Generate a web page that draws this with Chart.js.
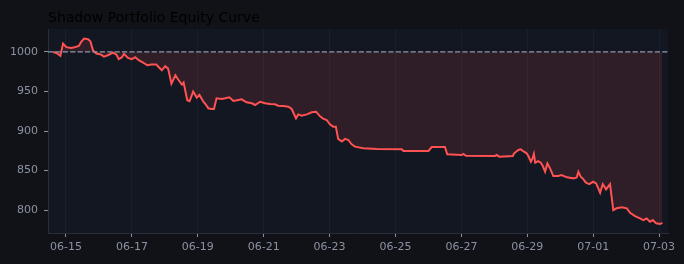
<!DOCTYPE html>
<html>
<head>
<meta charset="utf-8">
<script src="https://cdn.jsdelivr.net/npm/chart.js@4.4.1/dist/chart.umd.min.js"></script>
<style>
  html, body { margin: 0; padding: 0; background: #111217; }
  #wrap { width: 684px; height: 264px; }
</style>
</head>
<body>
<div id="wrap"><canvas id="myChart" width="684" height="264"></canvas></div>
<script>
  // day number counted from June (07-01 = 31)
  const days = [14.61, 14.71, 14.83, 14.91, 15.01, 15.16, 15.26, 15.39, 15.46, 15.55, 15.67, 15.74, 15.82, 15.92,
    16.07, 16.15, 16.27, 16.43, 16.53, 16.60, 16.70, 16.76, 16.88, 17.00, 17.10, 17.21, 17.34, 17.47, 17.59, 17.74,
    17.84, 17.91, 18.01, 18.10, 18.20, 18.32, 18.42, 18.52, 18.57, 18.68, 18.75, 18.86, 18.97, 19.05, 19.17, 19.25,
    19.32, 19.42, 19.49, 19.57, 19.73, 19.83, 19.96, 20.08, 20.23, 20.33, 20.48, 20.64, 20.74, 20.89, 21.04, 21.19,
    21.34, 21.44, 21.59, 21.75, 21.85, 21.98, 22.05, 22.15, 22.31, 22.46, 22.59, 22.69, 22.79, 22.91, 23.01, 23.11,
    23.19, 23.26, 23.37, 23.47, 23.57, 23.67, 23.77, 24.02, 24.43, 25.19, 25.24, 26.00, 26.10, 26.50, 26.57, 27.01,
    27.06, 27.14, 28.02, 28.07, 28.15, 28.56, 28.60, 28.73, 28.80, 28.90, 28.98, 29.03, 29.11, 29.16, 29.20, 29.24,
    29.33, 29.41, 29.47, 29.54, 29.61, 29.69, 29.79, 29.94, 30.04, 30.20, 30.40, 30.50, 30.55, 30.62, 30.68, 30.78,
    30.88, 31.00, 31.09, 31.21, 31.29, 31.39, 31.51, 31.61, 31.71, 31.87, 32.02, 32.12, 32.27, 32.42, 32.52, 32.62,
    32.72, 32.81, 32.91, 33.03, 33.10];
  const equity = [1000, 998.7, 995, 1010.5, 1006, 1005, 1006, 1007.6, 1012.7, 1016.9, 1016, 1013.5, 1002, 998,
    996.6, 994, 995.8, 999, 996.6, 990.8, 993.3, 997.5, 992.4, 990.8, 993.3, 989.5, 986.5, 983.1, 984, 984,
    979.7, 976.8, 981.9, 978.9, 959.9, 970.5, 964.2, 958.6, 961.2, 938.9, 937.6, 949.8, 942.2, 945.6, 937, 933,
    928.7, 927.8, 927.8, 941.4, 940.5, 941.4, 942.7, 938, 939.2, 940, 936.3, 935, 932.9, 937, 935, 934.2,
    933.8, 932, 931.6, 930.8, 927.8, 916, 921, 919.4, 921, 923.6, 924.4, 919.4, 916, 913.9, 908.5, 905.5,
    905.5, 890, 886.6, 890, 888.6, 883.2, 880.2, 878.1, 877.2, 876.8, 874.7, 874.7, 879.7, 879.7, 870.5, 869.6,
    870.9, 868.7, 868.4, 869.6, 867.5, 868.4, 871.8, 876, 876.8, 873.8, 871.8, 868.4, 861.1, 865.4, 870.9, 859.9,
    862, 859.9, 855.7, 848.5, 859, 852.8, 843, 843, 844.3, 841.4, 840.1, 841.4, 848.5, 842.2, 840.1, 834.6,
    832.9, 835.8, 833.8, 821.9, 832.9, 826.2, 832.9, 800, 802.2, 803.4, 802.2, 796.6, 792.4, 789.5, 787.3, 789.5,
    785.2, 787.3, 783.2, 782.3, 783.9];
  const baseline = 1000;
  const xTicks = [15, 17, 19, 21, 23, 25, 27, 29, 31, 33];
  const yTicks = [800, 850, 900, 950, 1000];
  const titleText = "Shadow Portfolio Equity Curve";

  const xMin = 14.454, xMax = 33.27;

  function dayLabel(d) {
    let m = "06", n = d;
    if (d > 30) { m = "07"; n = d - 30; }
    return m + "-" + String(n).padStart(2, "0");
  }

  // page + plot background and title
  const bgPlugin = {
    id: "bg",
    beforeDraw(chart) {
      const ctx = chart.ctx, a = chart.chartArea;
      ctx.save();
      ctx.fillStyle = "#111217";
      ctx.fillRect(0, 0, chart.width, chart.height);
      ctx.fillStyle = "#131722";
      ctx.fillRect(a.left, a.top, a.right - a.left, a.bottom - a.top);
      ctx.fillStyle = "#000000";
      ctx.font = "14px 'DejaVu Sans'";
      ctx.textBaseline = "alphabetic";
      ctx.fillText(titleText, a.left, 22);
      ctx.restore();
    }
  };

  const config = {
    type: "line",
    data: {
      datasets: [
        {
          label: "Baseline",
          data: [{ x: xMin, y: baseline }, { x: xMax, y: baseline }],
          borderColor: "#8f98ab",
          borderWidth: 1.3,
          borderDash: [5.2, 2.2],
          pointRadius: 0,
          fill: false,
          order: 1
        },
        {
          label: "Equity",
          data: days.map((d, i) => ({ x: d, y: equity[i] })),
          borderColor: "#ff5252",
          backgroundColor: "rgba(255, 82, 82, 0.12)",
          borderWidth: 2,
          pointRadius: 0,
          tension: 0,
          fill: { value: baseline },
          order: 2
        }
      ]
    },
    options: {
      responsive: false,
      animation: false,
      layout: { padding: { top: 29, right: 16, left: 0, bottom: 0 } },
      plugins: { legend: { display: false }, tooltip: { enabled: false } },
      scales: {
        x: {
          type: "linear",
          min: xMin,
          max: xMax,
          afterBuildTicks: (s) => { s.ticks = xTicks.map(v => ({ value: v })); },
          afterFit: (s) => { s.height = 31; },
          grid: { color: "#1b1f2c", tickColor: "#8b92a3", tickLength: 4, drawOnChartArea: true },
          border: { color: "#2a2e39" },
          ticks: {
            color: "#8b92a3",
            font: { family: "DejaVu Sans", size: 11 },
            padding: 4,
            maxRotation: 0,
            autoSkip: false,
            callback: (v) => dayLabel(v)
          }
        },
        y: {
          min: 771,
          max: 1029,
          afterBuildTicks: (s) => { s.ticks = yTicks.map(v => ({ value: v })); },
          afterFit: (s) => { s.width = 48; },
          grid: { drawOnChartArea: false, tickColor: "#8b92a3", tickLength: 4 },
          border: { color: "#2a2e39" },
          ticks: {
            color: "#8b92a3",
            font: { family: "DejaVu Sans", size: 11 },
            padding: 6,
            callback: (v) => String(v)
          }
        }
      }
    },
    plugins: [bgPlugin]
  };
  var myChart = new Chart(document.getElementById("myChart"), config);
</script>
</body>
</html>
